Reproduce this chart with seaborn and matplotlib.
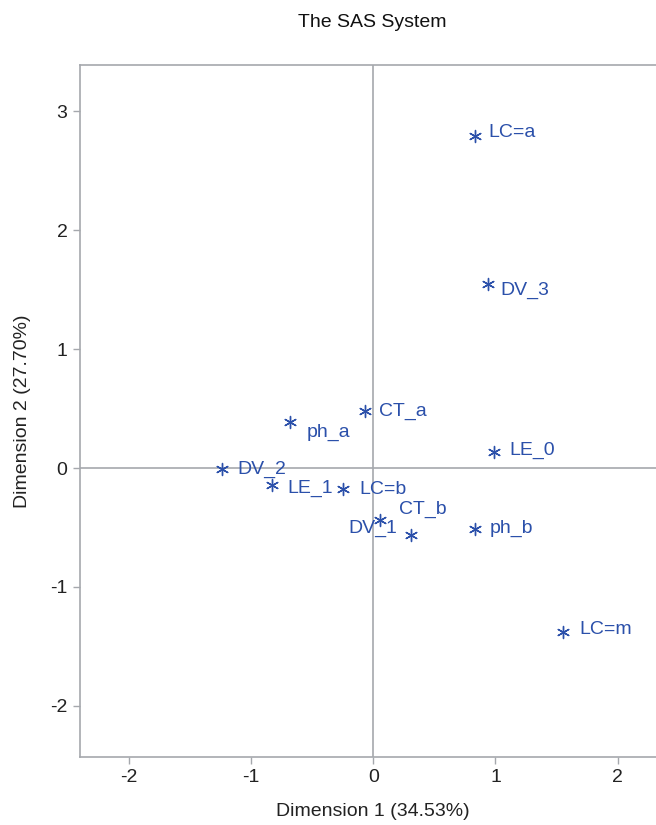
"""Analisis de correspondencias - mapa de categorias (Dimension 1 vs 2)."""

import matplotlib

matplotlib.use("Agg")
import matplotlib.pyplot as plt
import pandas as pd
import seaborn as sns

# categorias y coordenadas
labels = ["LC=a", "DV_3", "CT_a", "ph_a", "LE_0", "DV_2",
          "LE_1", "LC=b", "DV_1", "CT_b", "ph_b", "LC=m"]
dim1 = [0.83, 0.94, -0.065, -0.68, 0.99, -1.24,
        -0.83, -0.25, 0.057, 0.31, 0.83, 1.55]
dim2 = [2.79, 1.55, 0.48, 0.39, 0.135, -0.01,
        -0.14, -0.18, -0.44, -0.56, -0.51, -1.38]

x_ticks = [-2, -1, 0, 1, 2]
y_ticks = [-2, -1, 0, 1, 2, 3]

# desplazamiento de etiquetas (puntos) - solo estilo
offsets = {"LC=a": (10, 3), "DV_3": (9, -5), "CT_a": (10, 0), "ph_a": (12, -8),
           "LE_0": (11, 1), "DV_2": (11, 0), "LE_1": (11, -3), "LC=b": (12, 0),
           "DV_1": (-23, -6), "CT_b": (-9, 18), "ph_b": (11, 0), "LC=m": (12, 2)}

BLUE = "#2B50AA"
GRAY = "#A5A8AD"
FS = 14

sns.set_theme(style="white")
plt.rcParams["font.family"] = ["Liberation Sans", "DejaVu Sans"]
plt.rcParams["axes.unicode_minus"] = False

df = pd.DataFrame({"label": labels, "dim1": dim1, "dim2": dim2})

fig = plt.figure(figsize=(6.56, 8.25), dpi=100)
ax = fig.add_axes([80 / 656, 68 / 825, 586.5 / 656, 692 / 825])

ax.axvline(0, color=GRAY, lw=1.2, zorder=1)
ax.axhline(0, color=GRAY, lw=1.2, zorder=1)

sns.scatterplot(data=df, x="dim1", y="dim2", marker=(6, 2, 0), s=75,
                color=BLUE, linewidth=1.0, ax=ax, zorder=3)

for lab, x, y in zip(labels, dim1, dim2):
    dx, dy = offsets[lab]
    ax.annotate(lab, (x, y), xytext=(dx, dy), textcoords="offset points",
                ha="left", va="center", color=BLUE, fontsize=FS)

ax.set_xlim(-2.4, 2.4)
ax.set_ylim(-2.43, 3.39)
ax.set_xticks(x_ticks)
ax.set_yticks(y_ticks)
ax.tick_params(axis="both", which="major", direction="out", length=5,
               width=1, color=GRAY, labelsize=FS, labelcolor="#222222",
               bottom=True, left=True, pad=4)
for sp in ax.spines.values():
    sp.set_color(GRAY)
    sp.set_linewidth(1.2)

ax.set_xlabel("Dimension 1 (34.53%)", fontsize=FS, color="#222222", labelpad=12)
ax.set_ylabel("Dimension 2 (27.70%)", fontsize=FS, color="#222222", labelpad=14)
fig.text(0.568, 0.973, "The SAS System", ha="center", va="center",
         fontsize=FS, color="#111111")

fig.savefig("out.png", dpi=100)
plt.close(fig)
